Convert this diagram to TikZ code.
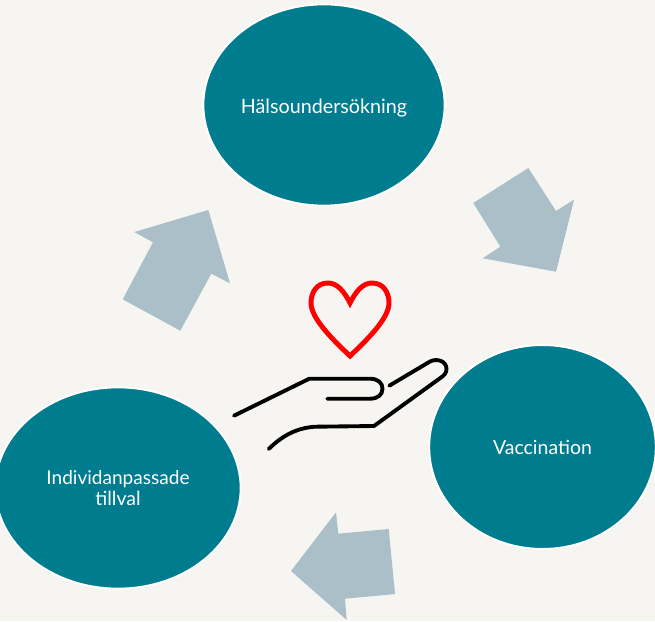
\documentclass[tikz,border=0pt]{standalone}
\usepackage{fontspec}
\setmainfont{Lato}
\usetikzlibrary{shapes.geometric}
\definecolor{bgc}{HTML}{F6F5F2}
\definecolor{tealc}{HTML}{007C8F}
\definecolor{arrowc}{HTML}{AABFC7}
\tikzset{
  bubble/.style={ellipse,fill=tealc,draw=white,line width=1.5pt,inner sep=0pt,text=white,align=center,font=\fontsize{14.6pt}{16.2pt}\selectfont},
  blockarrow/.style={fill=arrowc,draw=none},
  handline/.style={draw=black,line width=2.9pt,line cap=round,line join=round},
  heartline/.style={draw=red,line width=3.7pt,line join=miter}
}
\begin{document}
\begin{tikzpicture}[x=0.75pt,y=-0.75pt]
\useasboundingbox (0,0) rectangle (655,621);
\fill[bgc] (0,0) rectangle (655,621);
\begin{scope}
\clip (0,0) rectangle (655,621);
\node[bubble,minimum width=181pt,minimum height=151pt] (top) at (324,105) {\raisebox{-2.2pt}[11pt][3pt]{\fontsize{14.8pt}{16pt}\selectfont Hälsoundersökning}};
\node[bubble,minimum width=170pt,minimum height=153pt] (right) at (542.5,447) {Vaccination};
\node[bubble,minimum width=184pt,minimum height=151pt] (left) at (118,488) {\fontsize{14.3pt}{16.6pt}\selectfont Individanpassade\\tillval};
\end{scope}
\fill[blockarrow] (528.3,168) -- (556,211) -- (574,199.7) -- (556,271.7) -- (482.7,258.3) -- (500.3,246.7) -- (473.3,203) -- cycle;
\fill[blockarrow] (388.7,529) -- (395,594) -- (345,598.7) -- (346.7,620) -- (291,571) -- (336,512.3) -- (338.3,533.7) -- cycle;
\fill[blockarrow] (208.3,210) -- (230,283.3) -- (211.3,273.7) -- (180.3,330.7) -- (122.7,299.3) -- (153,242.3) -- (134.3,232) -- cycle;
% heart
\draw[heartline] (350,303) .. controls (344,291) and (337,283) .. (328,283)
  .. controls (317,283) and (311,292) .. (311,303)
  .. controls (311,318) and (332,339) .. (350,356)
  .. controls (368,339) and (389,318) .. (389,303)
  .. controls (389,292) and (383,283) .. (372,283)
  .. controls (363,283) and (356,291) .. (350,303) -- cycle;
% hand
\draw[handline] (234,415.7) -- (309.3,378.7) -- (370,378.7)
  .. controls (378,378.7) and (382.5,383) .. (382.5,388.7)
  .. controls (382.5,394.5) and (378,398.7) .. (370,398.7) -- (327.3,398.7);
\draw[handline] (389.3,385.7) -- (430,361.5)
  .. controls (437,358) and (446.5,361) .. (446.5,369)
  .. controls (446.5,373) and (444,375.5) .. (441,377.5)
  -- (374,426) -- (315,426.7)
  .. controls (296,428) and (282,436) .. (268.7,449);
\end{tikzpicture}
\end{document}
